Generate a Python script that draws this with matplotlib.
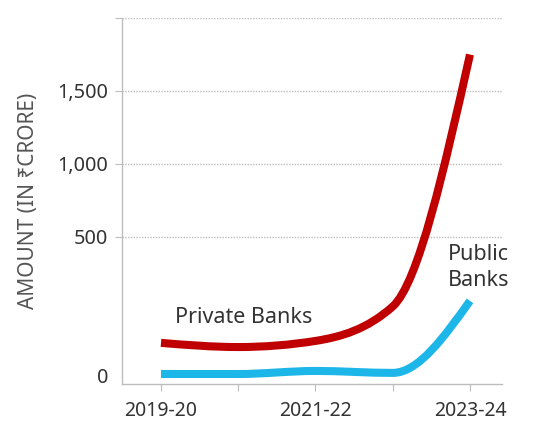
import numpy as np
import matplotlib.pyplot as plt
from matplotlib.path import Path
from matplotlib.patches import PathPatch

plt.rcParams['font.family'] = ['Noto Sans', 'DejaVu Sans']

years = ['2019-20', '2020-21', '2021-22', '2022-23', '2023-24']
private_banks = [119, 104, 126, 250, 1750]
public_banks = [7, 7, 18, 11, 270]

yticks = [0, 500, 1000, 1500, 2000]
ytick_labels = ['0', '500', '1,000', '1,500', '']

RED = '#c00000'
BLUE = '#1db6e8'
GREY = '#bdbdbd'


# the chart squeezes everything above 500
def fwd(v):
    v = np.asarray(v, dtype=float)
    return np.where(v <= 500, v, 500 + (v - 500) * 0.525)


def inv(u):
    u = np.asarray(u, dtype=float)
    return np.where(u <= 500, u, 500 + (u - 500) / 0.525)


def smooth_path(xs, ys):
    # monotone cubic (like d3 curveMonotoneX) built in scaled space
    xs = np.asarray(xs, dtype=float)
    ys = fwd(ys)
    h = np.diff(xs)
    s = np.diff(ys) / h
    n = len(xs)
    t = np.zeros(n)
    for i in range(1, n - 1):
        p = (s[i - 1] * h[i] + s[i] * h[i - 1]) / (h[i - 1] + h[i])
        t[i] = (np.sign(s[i - 1]) + np.sign(s[i])) * min(abs(s[i - 1]), abs(s[i]), 0.5 * abs(p))
    t[0] = (3 * s[0] - t[1]) / 2
    t[-1] = (3 * s[-1] - t[-2]) / 2
    verts = [(xs[0], ys[0])]
    codes = [Path.MOVETO]
    for i in range(n - 1):
        verts.append((xs[i] + h[i] / 3, ys[i] + h[i] * t[i] / 3))
        verts.append((xs[i + 1] - h[i] / 3, ys[i + 1] - h[i] * t[i + 1] / 3))
        verts.append((xs[i + 1], ys[i + 1]))
        codes += [Path.CURVE4] * 3
    verts = np.array(verts)
    verts[:, 1] = inv(verts[:, 1])
    return Path(verts, codes)


fig = plt.figure(figsize=(5.39, 4.24), dpi=100)
ax = fig.add_axes([0.2263, 0.0943, 0.705, 0.8632])
ax.set_yscale('function', functions=(fwd, inv))

x = np.arange(len(years))
for vals, col in [(private_banks, RED), (public_banks, BLUE)]:
    ax.add_patch(PathPatch(smooth_path(x, vals), facecolor='none', edgecolor=col,
                           lw=5.8, capstyle='butt', zorder=3))

ax.set_xlim(-0.505, 4.414)
ax.set_ylim(-29, 2000)

ax.set_xticks(x)
ax.set_xticklabels([y if i % 2 == 0 else '' for i, y in enumerate(years)])
ax.set_yticks(yticks)
ax.set_yticklabels(ytick_labels)
ax.tick_params(axis='x', length=5, color=GREY, pad=7, labelsize=14, labelcolor='#333333')
ax.tick_params(axis='y', length=5, color=GREY, pad=5, labelsize=14.3, labelcolor='#333333')
ax.yaxis.get_major_ticks()[0].tick1line.set_visible(False)

for v in yticks[1:]:
    ax.axhline(v, color=GREY, lw=1, ls=(0, (1, 1)), zorder=1)

for side in ['top', 'right']:
    ax.spines[side].set_visible(False)
for side in ['left', 'bottom']:
    ax.spines[side].set_color(GREY)
    ax.spines[side].set_linewidth(1)

ax.set_ylabel('AMOUNT (IN \u20b9CRORE)', fontsize=15, color='#555555')
ax.yaxis.set_label_coords(-0.218, 0.5)

ax.text(1.07, 209, 'Private Banks', fontsize=15.5, color='#333333', ha='center', va='center')
ax.text(3.71, 389, 'Public\nBanks', fontsize=15.5, color='#333333', ha='left', va='center',
        linespacing=1.3)

fig.savefig('out.png', dpi=100)
